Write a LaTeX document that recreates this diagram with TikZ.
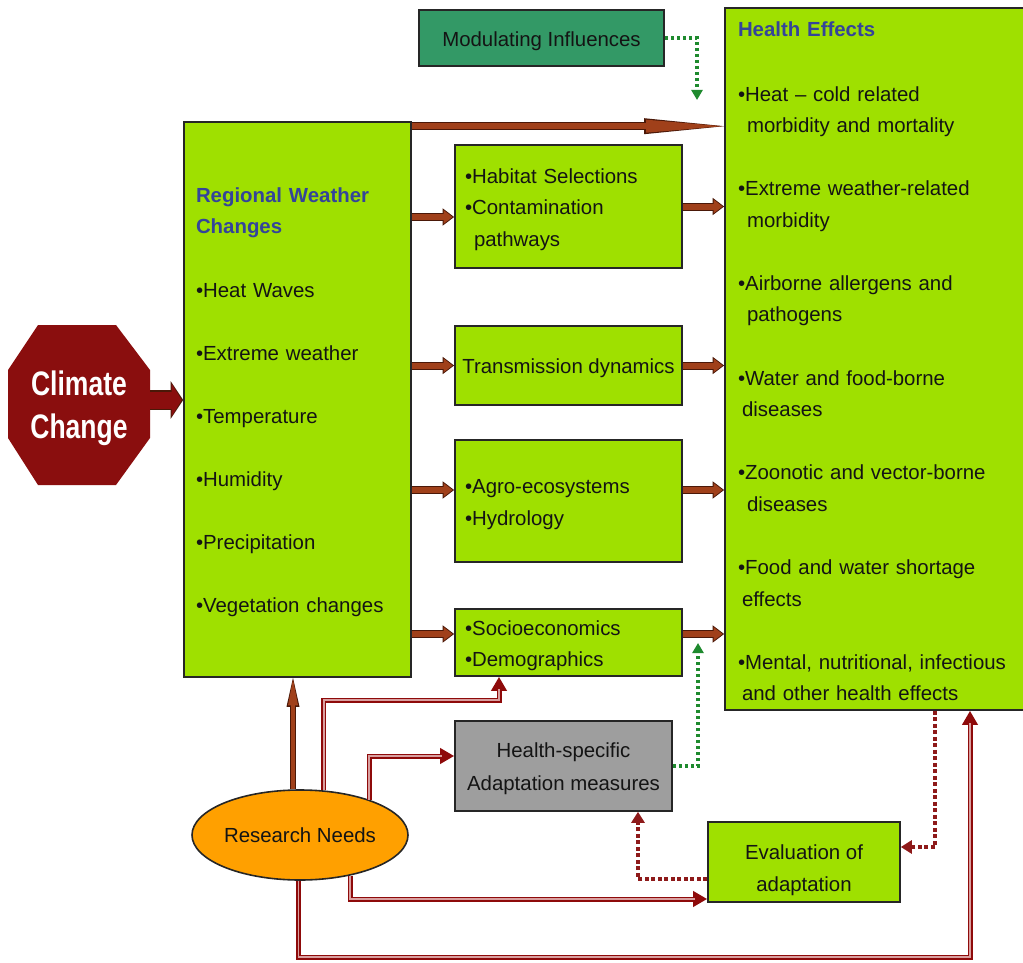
\documentclass[tikz,border=0pt]{standalone}
\usepackage{fontspec}
\setmainfont{Liberation Sans}
\usepackage{graphicx}
\usetikzlibrary{arrows.meta,shapes.geometric}
\definecolor{lg}{HTML}{9FE000}
\definecolor{modg}{HTML}{339966}
\definecolor{ttl}{HTML}{34449A}
\definecolor{brn}{HTML}{A0401A}
\definecolor{brnd}{HTML}{4A1808}
\definecolor{dred}{HTML}{8E0A0A}
\definecolor{pinkc}{HTML}{D9A0A0}
\definecolor{grn}{HTML}{1E8A2E}
\definecolor{rdotc}{HTML}{8E1A1A}
\definecolor{greyb}{HTML}{9E9E9E}
\definecolor{octr}{HTML}{8A0E0E}
\definecolor{orng}{HTML}{FFA000}
\definecolor{txt}{HTML}{141414}
\newcommand\tstr[1]{\rule{0pt}{#1}}
\begin{document}
\begin{tikzpicture}[x=1pt,y=-1pt,
  box/.style={draw=black!85, line width=1.6pt, fill=lg, inner sep=0pt, text=txt,
    font=\fontsize{20.4}{31.5}\selectfont},
  barrow/.style={draw=brn, line width=6pt, -{Triangle[length=9pt,width=13pt]}, shorten >=1.5pt,
    preaction={draw=brnd, line width=8pt, -{Triangle[length=11.5pt,width=16.5pt]}, shorten >=0pt}},
  longarrow/.style={draw=brn, line width=6.5pt, -{Triangle[length=76pt,width=13pt,line width=0pt]}, shorten >=2pt,
    preaction={draw=brnd, line width=8.5pt, -{Triangle[length=80pt,width=16pt,line width=0pt]}, shorten >=0pt}},
  bigarrow/.style={draw=octr, line width=17pt, -{Triangle[length=10pt,width=32pt]}, shorten >=1.5pt,
    preaction={draw=brnd, line width=19.5pt, -{Triangle[length=12.5pt,width=37pt]}, shorten >=0pt}},
  uparrow/.style={draw=brn, line width=3.5pt, -{Triangle[length=26pt,width=10pt,line width=0pt]}, shorten >=1.5pt,
    preaction={draw=brnd, line width=5.5pt, -{Triangle[length=29pt,width=13pt,line width=0pt]}, shorten >=0pt}},
  darrow/.style={draw=pinkc, line width=1.8pt, shorten >=12pt,
    preaction={draw=dred, line width=5pt, -{Triangle[length=14pt,width=15pt]}, shorten >=0pt}},
  gdot/.style={draw=grn, line width=3.5pt, dash pattern=on 3.5pt off 2.5pt, -{Triangle[length=10pt,width=11pt]}},
  rdot/.style={draw=rdotc, line width=4pt, dash pattern=on 4pt off 2.5pt, -{Triangle[length=11pt,width=13pt]}}
]
\useasboundingbox (0,0) rectangle (1023,963);
\fill[white] (0,0) rectangle (1023,963);

% Climate change octagon
\fill[octr] (38,325) -- (116,325) -- (150,370) -- (150,438) -- (116,485) -- (38,485) -- (8,438) -- (8,370) -- cycle;
\node[minimum width=142pt, minimum height=160pt, inner sep=0pt, text=white, align=center,
  font=\bfseries\fontsize{34}{43}\selectfont] (cc) at (79,405)
  {\tstr{32pt}\scalebox{0.78}[1]{Climate}\\\scalebox{0.78}[1]{Change}};

% Regional weather changes
\node[box, minimum width=227pt, minimum height=555pt, text width=203pt, inner xsep=12pt, align=left] (reg) at (297.5,399.5)
  {\tstr{20.5pt}\textcolor{ttl}{\bfseries Regional Weather}\\\textcolor{ttl}{\bfseries Changes}\\[32.5pt]
   •Heat Waves\\[31.5pt] •Extreme weather\\[31.5pt] •Temperature\\[31.5pt] •Humidity\\[31.5pt]
   •Precipitation\\[31.5pt] •Vegetation changes};

% Health effects
\node[box, minimum width=320pt, minimum height=702pt, text width=294pt, inner xsep=13pt, align=left] (he) at (885,359)
  {\tstr{19pt}\textcolor{ttl}{\bfseries Health Effects}\\[33.5pt]
   •Heat – cold related\\\hspace*{9pt}morbidity and mortality\\[31.7pt]
   •Extreme weather-related\\\hspace*{9pt}morbidity\\[31.7pt]
   •Airborne allergens and\\\hspace*{9pt}pathogens\\[31.7pt]
   •Water and food-borne\\\hspace*{4pt}diseases\\[31.7pt]
   •Zoonotic and vector-borne\\\hspace*{9pt}diseases\\[31.7pt]
   •Food and water shortage\\\hspace*{4pt}effects\\[31.7pt]
   •Mental, nutritional, infectious\\\hspace*{4pt}and other health effects};

% Middle boxes
\node[box, minimum width=227pt, minimum height=123pt, text width=207pt, inner xsep=10pt, align=left] (hab) at (568.5,206.5)
  {\tstr{20.5pt}•Habitat Selections\\•Contamination\\\hspace*{9pt}pathways};
\node[box, minimum width=227pt, minimum height=79pt] (tra) at (568.5,365.5) {\tstr{20.5pt}Transmission dynamics};
\node[box, minimum width=227pt, minimum height=122pt, text width=207pt, inner xsep=10pt, align=left] (agr) at (568.5,501)
  {\tstr{21.5pt}•Agro-ecosystems\\•Hydrology};
\node[box, minimum width=227pt, minimum height=67pt, text width=207pt, inner xsep=10pt, align=left] (soc) at (568.5,642.5)
  {\tstr{21.5pt}•Socioeconomics\\•Demographics};
\node[box, fill=greyb, minimum width=217pt, minimum height=90pt, align=center,
  font=\fontsize{20.4}{33}\selectfont] (ada) at (563.5,766) {\tstr{20.5pt}Health-specific\\Adaptation measures};
\node[box, minimum width=192pt, minimum height=80pt, align=center,
  font=\fontsize{20.4}{32}\selectfont] (ev) at (804,862) {\tstr{30.5pt}Evaluation of\\adaptation};
\node[box, fill=modg, minimum width=245pt, minimum height=56pt] (mod) at (541.5,38) {\tstr{20.5pt}Modulating Influences};
\node[ellipse, draw=black!85, line width=1.6pt, fill=orng, minimum width=216pt, minimum height=90pt, inner sep=0pt,
  text=txt, font=\fontsize{20.4}{24}\selectfont] (re) at (300,835) {Research Needs};

% Brown block arrows
\draw[bigarrow] ([yshift=5pt]cc.east) -- ([yshift=5pt]cc.east -| reg.west);
\coordinate (a0) at ([yshift=-5pt]reg.north east);
\draw[longarrow] (a0) -- (a0 -| he.west);
\coordinate (a1) at ([yshift=-10.5pt]hab.west);
\draw[barrow] (reg.east |- a1) -- (a1);
\draw[barrow] (hab.east) -- (hab.east -| he.west);
\draw[barrow] (reg.east |- tra.west) -- (tra.west);
\draw[barrow] (tra.east) -- (tra.east -| he.west);
\coordinate (a3) at ([yshift=11pt]agr.west);
\draw[barrow] (reg.east |- a3) -- (a3);
\draw[barrow] (agr.east |- a3) -- (a3 -| he.west);
\coordinate (a4) at ([yshift=8.5pt]soc.west);
\draw[barrow] (reg.east |- a4) -- (a4);
\draw[barrow] (soc.east |- a4) -- (a4 -| he.west);
\draw[uparrow] ([xshift=-7pt]re.north) -- ([xshift=-7pt]re.north |- reg.south);

% Research needs double arrows
\coordinate (k1) at (499,700);
\draw[darrow] (re.62) |- (k1) -- (k1 |- soc.south);
\draw[darrow] (re.27) |- ([yshift=10pt]ada.west);
\draw[darrow] (re.-39) |- ([yshift=-37pt]ev.west);
\coordinate (k4) at (970,957);
\draw[darrow] (re.268) |- (k4) -- (k4 |- he.south);

% Dotted arrows
\coordinate (x5) at (935,0);
\draw[rdot] (he.south -| x5) |- ([yshift=15pt]ev.east);
\coordinate (x6) at (638,0);
\draw[rdot] ([yshift=-17pt]ev.west) -| (ada.south -| x6);
\coordinate (g1) at (697,100);
\draw[gdot] (mod.east) -| (g1);
\coordinate (g2) at (698,643);
\draw[gdot] (ada.east) -| (g2);
\end{tikzpicture}
\end{document}
